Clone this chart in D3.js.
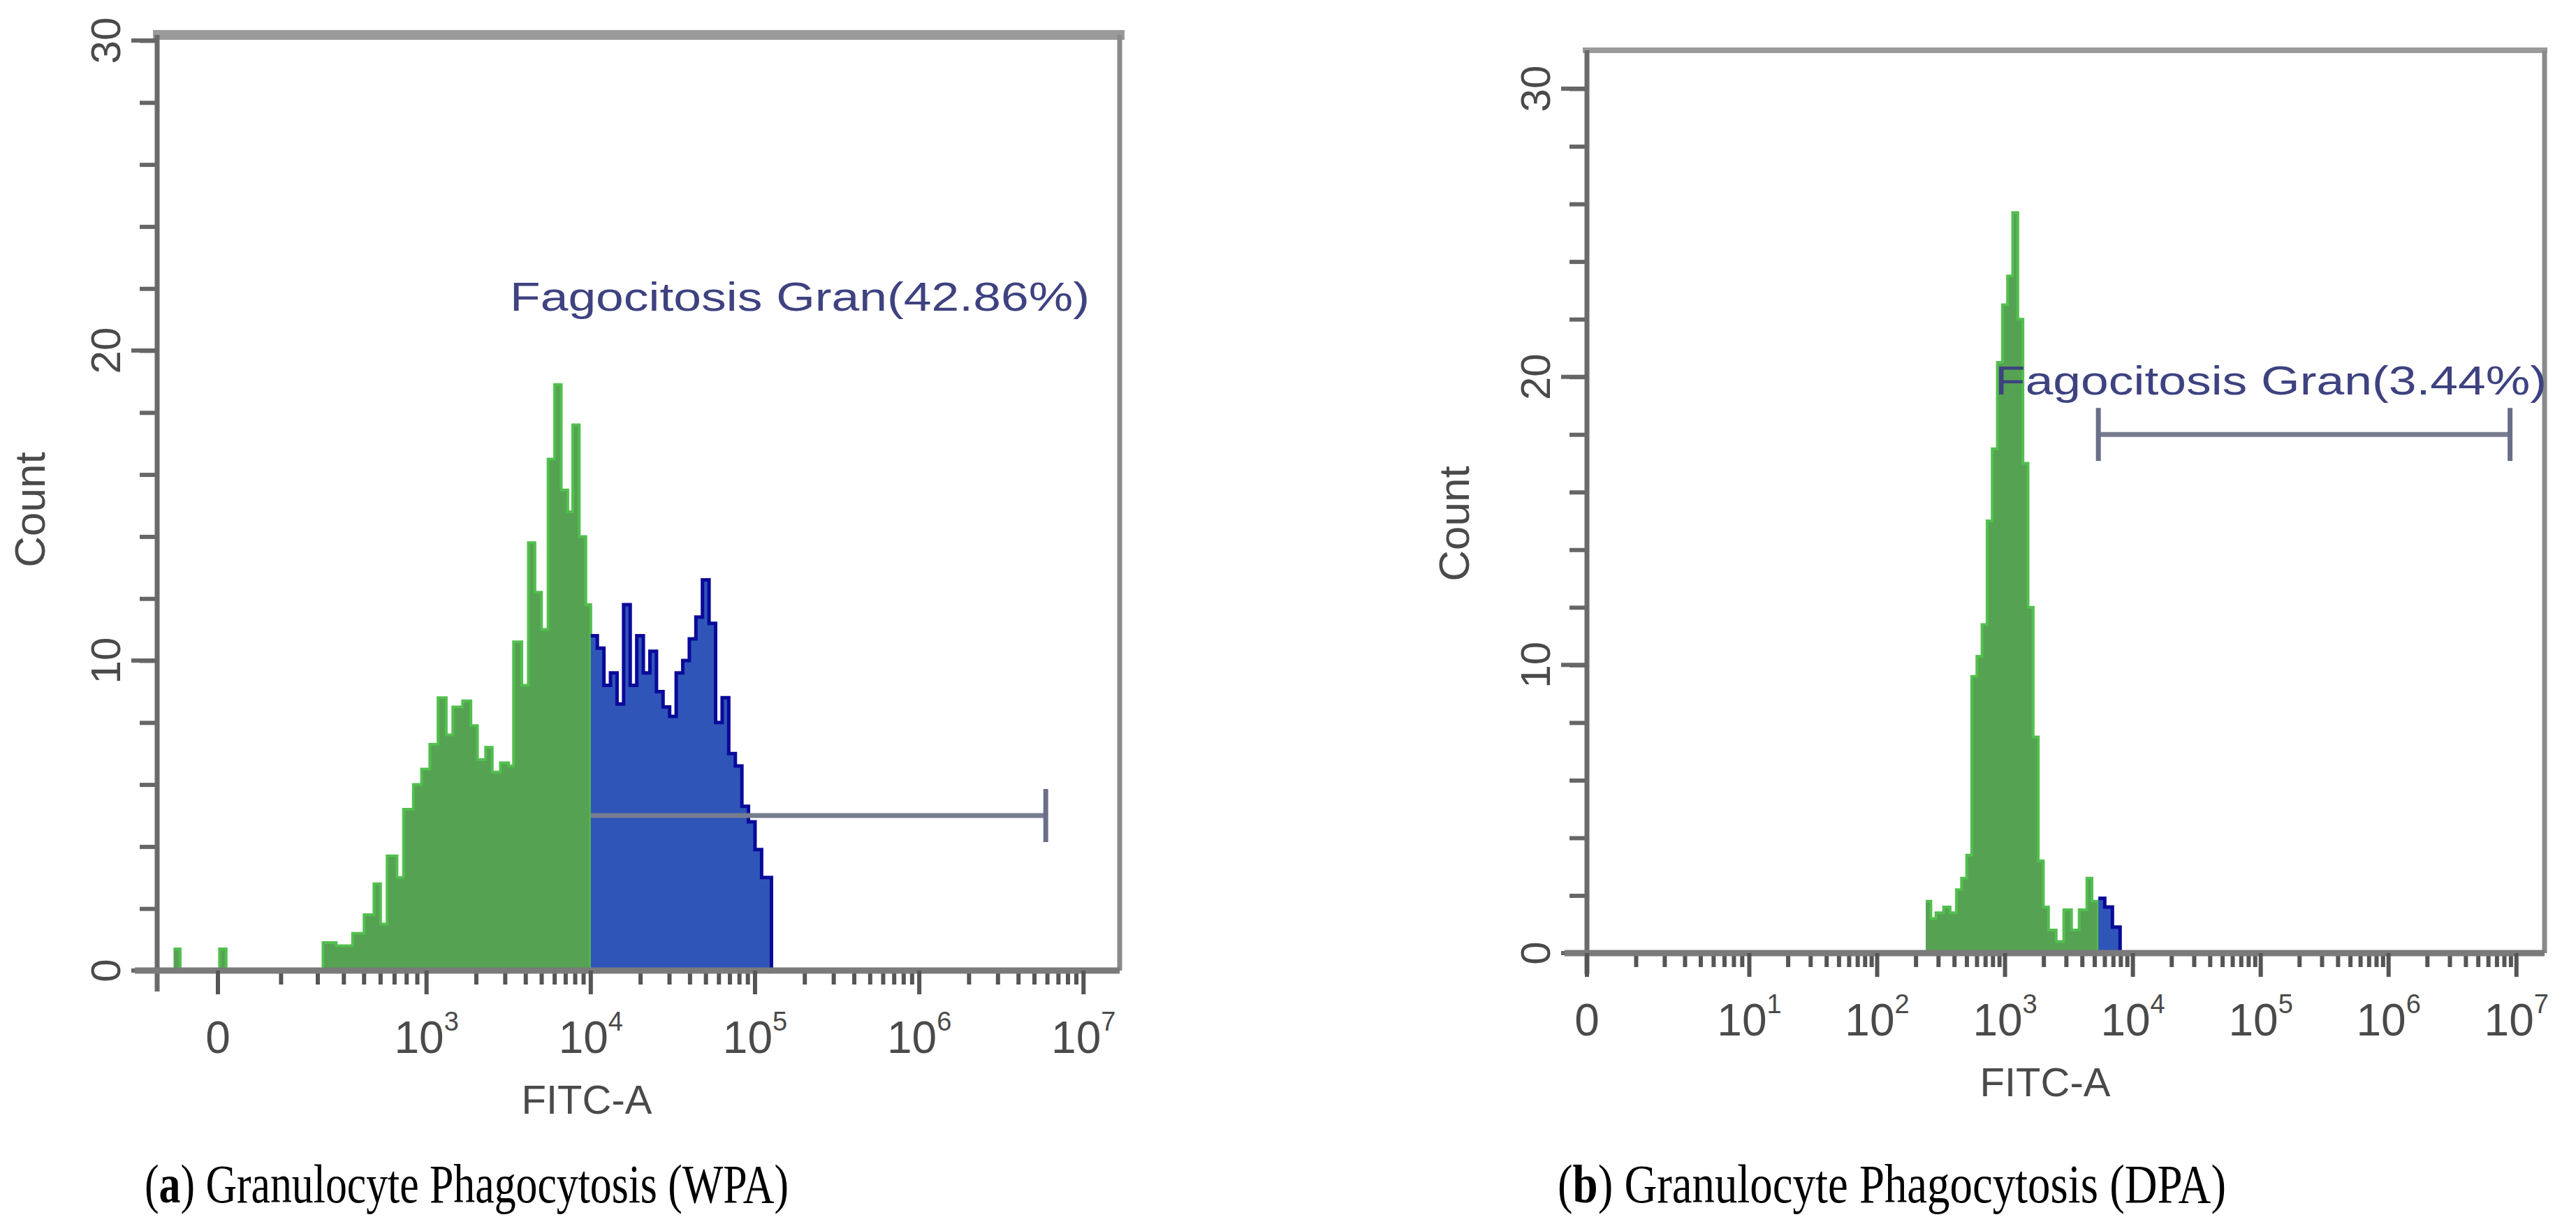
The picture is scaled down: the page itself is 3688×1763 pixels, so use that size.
<!DOCTYPE html>
<html><head><meta charset="utf-8">
<script src="https://cdn.jsdelivr.net/npm/d3@7"></script>
<style>body{margin:0;background:#fff}</style>
</head><body>
<svg id="c" width="3688" height="1763"></svg>
<script>
// ---- data ----
const yTicks = [0, 10, 20, 30];
const leftTickPos = [1.73, 3, 4, 5, 6, 7];
const leftTickLbl = ["0", "3", "4", "5", "6", "7"];
const rightTickPos = [-0.27, 1, 2, 3, 4, 5, 6, 7];
const rightTickLbl = ["0", "1", "2", "3", "4", "5", "6", "7"];
const leftBins = [1.46,1.50,1.74,1.78,2.37,2.45,2.55,2.62,2.68,2.72,2.76,2.82,2.86,2.92,2.97,3.02,3.07,3.12,3.16,3.22,3.27,3.31,3.36,3.40,3.45,3.50,3.53,3.58,3.62,3.66,3.70,3.74,3.78,3.82,3.86,3.89,3.93,3.97,4.00,4.04,4.08,4.12,4.16,4.20,4.24,4.28,4.32,4.36,4.40,4.44,4.48,4.52,4.56,4.60,4.64,4.68,4.72,4.76,4.80,4.84,4.88,4.92,4.96,5.00,5.04,5.10];
const leftCounts = [0.7,0,0.7,0,0.9,0.8,1.2,1.8,2.8,1.5,3.7,3.0,5.2,6.0,6.5,7.3,8.8,7.6,8.5,8.7,7.9,6.8,7.2,6.4,6.7,6.6,10.6,9.2,13.8,12.2,11.0,16.5,18.9,15.5,14.8,17.6,14.0,11.8,10.8,10.4,9.2,9.6,8.6,11.8,9.2,10.8,9.6,10.3,9.0,8.5,8.2,9.6,10.0,10.7,11.4,12.6,11.2,8.0,8.8,7.0,6.6,5.3,4.8,3.9,3.0,0];
const rightBins = [2.38,2.42,2.46,2.52,2.57,2.62,2.66,2.70,2.74,2.78,2.82,2.86,2.90,2.94,2.98,3.02,3.06,3.10,3.14,3.18,3.22,3.26,3.30,3.34,3.40,3.46,3.52,3.58,3.64,3.68,3.73,3.78,3.84,3.90];
const rightCounts = [1.8,1.2,1.4,1.6,1.4,2.2,2.6,3.4,9.6,10.3,11.4,15.0,17.5,20.5,22.5,23.5,25.7,22.0,17.0,12.0,7.5,3.2,1.6,0.8,0.4,1.5,0.8,1.5,2.6,1.8,1.9,1.6,0.9,0];
const panels = [
 {bins:leftBins, counts:leftCounts, gateStart:4.0, gateEnd:6.77, gateY:5, label:"Fagocitosis Gran(42.86%)",
  xd:[1.36,7.22], xr:[225,1603], yr:[1390,58], frameTop:50, frameW:14, ticks:leftTickPos, tl:leftTickLbl,
  labelX:[730,1560], labelY:425, cap:"a", capTxt:"WPA", capX:[207,1129], countX:42, countY:730, fitcX:840},
 {bins:rightBins, counts:rightCounts, gateStart:3.73, gateEnd:6.95, gateY:18, label:"Fagocitosis Gran(3.44%)",
  xd:[-0.27,7.22], xr:[2272,3643], yr:[1365,127], frameTop:72, frameW:8, ticks:rightTickPos, tl:rightTickLbl,
  labelX:[2856,3646], labelY:545, cap:"b", capTxt:"DPA", capX:[2230,3187], countX:2081, countY:750, fitcX:2928}
];
const svg = d3.select("#c");
panels.forEach(p => {
  const x = d3.scaleLinear().domain(p.xd).range(p.xr);
  const y = d3.scaleLinear().domain([0,30]).range(p.yr);
  const g = svg.append("g");
  const x0 = p.xr[0], x1 = p.xr[1], yb = p.yr[0];
  g.append("line").attr("x1",x0-6).attr("x2",x1+p.frameW/2).attr("y1",p.frameTop).attr("y2",p.frameTop)
    .attr("stroke","#9a9a9a").attr("stroke-width",p.frameW);
  g.append("line").attr("x1",x1).attr("x2",x1).attr("y1",p.frameTop).attr("y2",yb)
    .attr("stroke","#8a8a8a").attr("stroke-width",7);
  const pts = p.bins.map((b,i)=>({v:b,c:p.counts[i]}));
  const green = pts.filter(d=>d.v<p.gateStart); green.push({v:p.gateStart,c:0});
  const blue = pts.filter(d=>d.v>=p.gateStart);
  const area = d3.area().x(d=>x(d.v)).y0(yb).y1(d=>y(d.c)).curve(d3.curveStepAfter);
  const line = d3.line().x(d=>x(d.v)).y(d=>y(d.c)).curve(d3.curveStepAfter);
  g.append("path").attr("d",area(green)).attr("fill","#55a252");
  g.append("path").attr("d",line(green)).attr("fill","none").attr("stroke","#52bf4e").attr("stroke-width",4);
  g.append("path").attr("d",area(blue)).attr("fill","#2f55b8");
  g.append("path").attr("d",line(blue)).attr("fill","none").attr("stroke","#0a0a9a").attr("stroke-width",5);
  const ya = d3.axisLeft(y).tickValues(d3.range(0,31,2)).tickSize(25).tickFormat("");
  g.append("g").attr("transform",`translate(${x0},0)`).call(ya)
    .call(s=>{s.select(".domain").remove();s.selectAll("line").attr("stroke","#666").attr("stroke-width",6);});
  g.append("line").attr("x1",x0).attr("x2",x0).attr("y1",p.frameTop).attr("y2",yb+30).attr("stroke","#6a6a6a").attr("stroke-width",7);
  g.selectAll(".ymaj").data(yTicks).join("line").attr("x1",x0-37).attr("x2",x0).attr("y1",d=>y(d)).attr("y2",d=>y(d))
    .attr("stroke","#666").attr("stroke-width",6);
  g.selectAll(".ylab").data(yTicks).join("text").text(d=>d)
    .attr("transform",d=>`translate(${x0-75},${y(d)}) rotate(-90)`).attr("text-anchor","middle").attr("dy","0.36em")
    .attr("font-family","Liberation Sans").attr("font-size",60).attr("fill","#4a4a4a");
  const minors = [];
  p.ticks.forEach((t,i)=>{ if(i<p.ticks.length-1){const w=p.ticks[i+1]-t; for(let k=2;k<10;k++) minors.push(t+Math.log10(k)*w);} });
  const xa = d3.axisBottom(x).tickValues(minors).tickSize(20).tickFormat("");
  g.append("g").attr("transform",`translate(0,${yb})`).call(xa)
    .call(s=>{s.select(".domain").remove();s.selectAll("line").attr("stroke","#555").attr("stroke-width",6);});
  g.append("line").attr("x1",x0-32).attr("x2",x1).attr("y1",yb).attr("y2",yb).attr("stroke","#7a7a7a").attr("stroke-width",9);
  g.selectAll(".xmaj").data(p.ticks).join("line").attr("x1",d=>x(d)).attr("x2",d=>x(d)).attr("y1",yb).attr("y2",yb+34)
    .attr("stroke","#555").attr("stroke-width",6);
  const tl = g.selectAll(".xlab").data(p.ticks).join("text").attr("x",d=>x(d)).attr("y",yb+118)
    .attr("text-anchor","middle").attr("font-family","Liberation Sans").attr("font-size",64).attr("fill","#4a4a4a");
  tl.each(function(d,i){
    const t = d3.select(this);
    if (i===0) t.text("0");
    else { t.append("tspan").text("10"); t.append("tspan").text(p.tl[i]).attr("font-size",38).attr("dy",-32); }
  });
  g.append("text").text("Count").attr("transform",`translate(${p.countX},${p.countY}) rotate(-90)`)
    .attr("text-anchor","middle").attr("dy","0.36em").attr("font-family","Liberation Sans").attr("font-size",62).attr("fill","#4a4a4a");
  g.append("text").text("FITC-A").attr("x",p.fitcX).attr("y",yb+205).attr("text-anchor","middle")
    .attr("font-family","Liberation Sans").attr("font-size",58).attr("fill","#4a4a4a");
  const gy = y(p.gateY);
  g.append("line").attr("x1",x(p.gateStart)).attr("x2",x(p.gateEnd)).attr("y1",gy).attr("y2",gy).attr("stroke","#777c90").attr("stroke-width",7);
  g.append("line").attr("x1",x(p.gateEnd)).attr("x2",x(p.gateEnd)).attr("y1",gy-38).attr("y2",gy+38).attr("stroke","#6a6f88").attr("stroke-width",7);
  if (p.cap==="b") g.append("line").attr("x1",x(p.gateStart)).attr("x2",x(p.gateStart)).attr("y1",gy-38).attr("y2",gy+38).attr("stroke","#6a6f88").attr("stroke-width",7);
  g.append("text").text(p.label).attr("x",p.labelX[0]).attr("y",p.labelY+20)
    .attr("textLength",p.labelX[1]-p.labelX[0]).attr("lengthAdjust","spacingAndGlyphs")
    .attr("font-family","Liberation Sans").attr("font-size",58).attr("fill","#3e4280");
  const c = g.append("text").attr("x",p.capX[0]).attr("y",1722).attr("textLength",p.capX[1]-p.capX[0])
    .attr("lengthAdjust","spacingAndGlyphs").attr("font-family","Liberation Serif").attr("font-size",78).attr("fill","#000");
  c.append("tspan").text("(");
  c.append("tspan").text(p.cap).attr("font-weight","bold");
  c.append("tspan").text(`) Granulocyte Phagocytosis (${p.capTxt})`);
});
</script>
</body></html>
